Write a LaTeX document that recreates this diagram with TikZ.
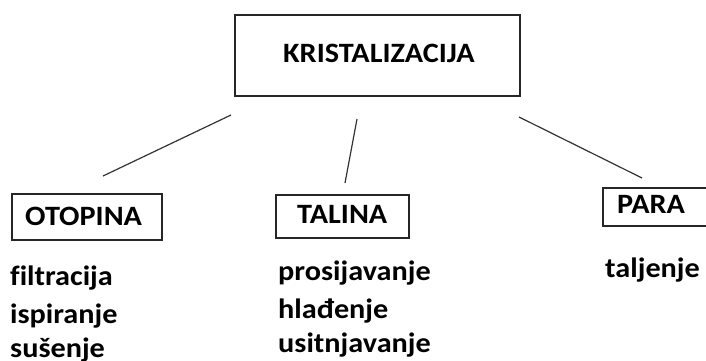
\documentclass[tikz,border=0pt]{standalone}
\usepackage{fontspec}
\setmainfont{Carlito}[FakeStretch=1.08,Ligatures=NoCommon]
\begin{document}
\begin{tikzpicture}[x=1pt,y=-1pt,
  every node/.style={font=\bfseries\fontsize{28}{32}\selectfont, inner sep=0pt, text=black},
  box/.style={draw=black!85, line width=1.5pt},
  conn/.style={draw=black!80, line width=1.2pt},
  lbl/.style={anchor=base west},
  item/.style={anchor=base west}]
\useasboundingbox (0,0) rectangle (706,361);
% main box
\draw[box] (235,15) rectangle (520,96);
\node[lbl] (main) at (283,63) {KRISTALIZACIJA};
% sub boxes
\draw[box] (12,194) rectangle (162,240);
\node[lbl] (otopina) at (25,225) {OTOPINA};
\draw[box] (276,195) rectangle (409,238);
\node[lbl] (talina) at (297,223) {TALINA};
\draw[box] (603,188) rectangle (712,226);
\node[lbl] (para) at (617,213) {PARA};
% connectors
\coordinate (l1a) at (231,115); \coordinate (l1b) at (103,176);
\coordinate (l2a) at (357,119); \coordinate (l2b) at (345,183);
\coordinate (l3a) at (519,117); \coordinate (l3b) at (642,178);
\draw[conn] (l1a) -- (l1b);
\draw[conn] (l2a) -- (l2b);
\draw[conn] (l3a) -- (l3b);
% lists
\node[item] (f1) at (10,285) {filtracija};
\node[item] (f2) at (10,323) {ispiranje};
\node[item] (f3) at (10,357) {sušenje};
\node[item] (t1) at (278,280) {prosijavanje};
\node[item] (t2) at (278,318) {hlađenje};
\node[item] (t3) at (278,352) {usitnjavanje};
\node[item] (p1) at (605,277) {taljenje};
\end{tikzpicture}
\end{document}
